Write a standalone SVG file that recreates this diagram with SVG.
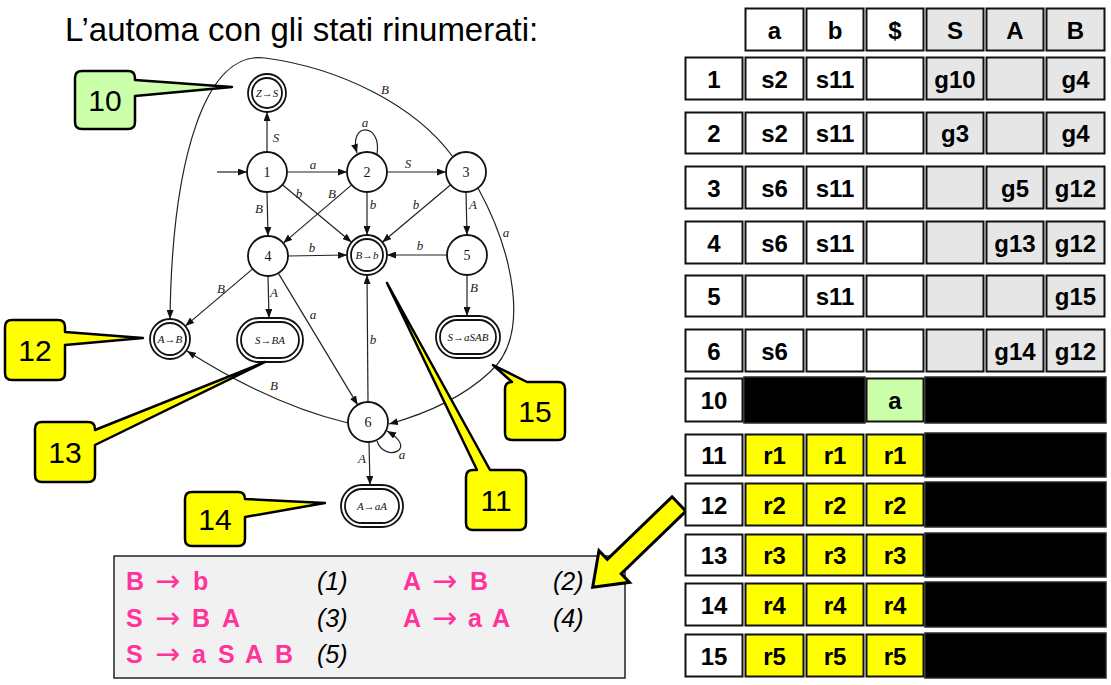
<svg xmlns="http://www.w3.org/2000/svg" width="1111" height="685" viewBox="0 0 1111 685">
<defs>
<marker id="ah" markerWidth="9" markerHeight="7" refX="9" refY="3.5" orient="auto" markerUnits="userSpaceOnUse"><path d="M0,0 L9,3.5 L0,7 Z" fill="#111"/></marker>
<style>
.e{fill:none;stroke:#222;stroke-width:1.2}
.ea{fill:none;stroke:#222;stroke-width:1.2;marker-end:url(#ah)}
.n{fill:#fff;stroke:#111;stroke-width:1.8}
.nl{font-family:"Liberation Serif",serif;font-size:14px;text-anchor:middle;fill:#111}
.sl{font-family:"Liberation Serif",serif;font-style:italic;font-size:11px;text-anchor:middle;fill:#111}
.el{font-family:"Liberation Serif",serif;font-style:italic;font-size:13px;text-anchor:middle;fill:#222}
.c{stroke:#111;stroke-width:2}
.w{fill:#fff}.g{fill:#e6e6e6}.y{fill:#ffff00}.k{fill:#000;stroke:#2a2a2a;stroke-width:1.5}.lg{fill:#ccffaa}
.t{font-family:"Liberation Sans",Arial,sans-serif;font-weight:bold;font-size:24px;text-anchor:middle;fill:#000}
.co{stroke:#000;stroke-width:2.5;stroke-linejoin:round}
.ct{font-family:"Liberation Sans",Arial,sans-serif;font-size:30px;text-anchor:middle;fill:#000}
.gp{font-family:"Liberation Sans",Arial,sans-serif;font-weight:bold;font-size:25px;fill:#ff3399}
.ga{font-family:"DejaVu Sans","Liberation Sans",sans-serif;font-size:30px;fill:#ff3399}
.gn{font-family:"Liberation Sans",Arial,sans-serif;font-style:italic;font-size:25px;fill:#000}
</style>
</defs>
<rect width="1111" height="685" fill="#fff"/>
<text x="65" y="41" font-family="Liberation Sans, Arial, sans-serif" font-size="33" fill="#000">L’automa con gli stati rinumerati:</text>

<!-- connectors -->
<g id="connectors">
<path class="ea" d="M217,172 L247,172"/>
<path class="ea" d="M267,152 L267,112"/>
<path class="ea" d="M287,172 L347,172"/>
<path class="ea" d="M377,154 C382,122 348,122 357,153"/>
<path class="ea" d="M387,172 L446,172"/>
<path class="ea" d="M267,192 L268,236"/>
<path class="ea" d="M282.4,184.8 L351.6,242.2"/>
<path class="ea" d="M351.7,184.9 L283.3,243.1"/>
<path class="ea" d="M367,192 L367,235"/>
<path class="ea" d="M450.7,184.8 L382.3,242.2"/>
<path class="ea" d="M466,192 L467,235"/>
<path class="ea" d="M288,256 L347,255"/>
<path class="ea" d="M447,255 L387,255"/>
<path class="ea" d="M252.7,268.9 L185.3,326.1"/>
<path class="ea" d="M268,276 L269,318"/>
<path class="ea" d="M278.3,273.1 L357.7,404.9"/>
<path class="ea" d="M467,275 L467,316"/>
<path class="ea" d="M368,402 L367,275"/>
<path class="ea" d="M377,441 C384,463 420,450 387,431"/>
<path class="ea" d="M369,442 L370,485"/>
<path class="ea" d="M348,423 Q272,405 187,351"/>
<path class="ea" d="M453,157 C415,105 340,68 265,58 C205,50 172,160 170,319"/>
<path class="ea" d="M478,188 C512,250 532,335 490,372 C462,398 425,414 389,424"/>
<text class="el" x="276" y="142">S</text>
<text class="el" x="313" y="169">a</text>
<text class="el" x="365" y="127">a</text>
<text class="el" x="408" y="168">S</text>
<text class="el" x="259" y="213">B</text>
<text class="el" x="299" y="198">b</text>
<text class="el" x="332" y="198">B</text>
<text class="el" x="373" y="209">b</text>
<text class="el" x="416" y="209">b</text>
<text class="el" x="473" y="209">A</text>
<text class="el" x="385" y="94">B</text>
<text class="el" x="506" y="237">a</text>
<text class="el" x="312" y="252">b</text>
<text class="el" x="420" y="250">b</text>
<text class="el" x="221" y="293">B</text>
<text class="el" x="274" y="297">A</text>
<text class="el" x="313" y="319">a</text>
<text class="el" x="474" y="292">B</text>
<text class="el" x="373" y="344">b</text>
<text class="el" x="274" y="390">B</text>
<text class="el" x="402" y="459">a</text>
<text class="el" x="362" y="463">A</text>
</g>

<!-- automaton nodes -->
<g id="node-ZS"><circle class="n" cx="267" cy="93" r="19"/><circle class="n" cx="267" cy="93" r="15"/><text class="sl" x="267" y="97">Z→S</text></g>
<g id="node-1"><circle class="n" cx="267" cy="172" r="20"/><text class="nl" x="267" y="177">1</text></g>
<g id="node-2"><circle class="n" cx="367" cy="172" r="20"/><text class="nl" x="367" y="177">2</text></g>
<g id="node-3"><circle class="n" cx="466" cy="172" r="20"/><text class="nl" x="466" y="177">3</text></g>
<g id="node-4"><circle class="n" cx="268" cy="256" r="20"/><text class="nl" x="268" y="261">4</text></g>
<g id="node-Bb"><circle class="n" cx="367" cy="255" r="20"/><circle class="n" cx="367" cy="255" r="16"/><text class="sl" x="367" y="259">B→b</text></g>
<g id="node-5"><circle class="n" cx="467" cy="255" r="20"/><text class="nl" x="467" y="260">5</text></g>
<g id="node-AB"><circle class="n" cx="170" cy="339" r="20"/><circle class="n" cx="170" cy="339" r="16"/><text class="sl" x="170" y="343">A→B</text></g>
<g id="node-SBA"><rect class="n" x="237" y="318" width="66" height="44" rx="22"/><rect class="n" x="241" y="322" width="58" height="36" rx="18"/><text class="sl" x="270" y="344">S→BA</text></g>
<g id="node-SaSAB"><rect class="n" x="436" y="316" width="64" height="42" rx="21"/><rect class="n" x="440" y="320" width="56" height="34" rx="17"/><text class="sl" x="468" y="341" font-size="10.5">S→aSAB</text></g>
<g id="node-6"><circle class="n" cx="368" cy="422" r="20"/><text class="nl" x="368" y="427">6</text></g>
<g id="node-AaA"><rect class="n" x="341" y="485" width="62" height="42" rx="21"/><rect class="n" x="345" y="489" width="54" height="34" rx="17"/><text class="sl" x="372" y="510">A→aA</text></g>

<!-- callouts -->
<g id="callout-10"><path class="co" fill="#ccffaa" d="M82,71 H128 Q135,71 135,78 V80 L232,87 L135,96 V122 Q135,129 128,129 H82 Q75,129 75,122 V78 Q75,71 82,71 Z"/><text class="ct" x="105" y="111">10</text></g>
<g id="callout-12"><path class="co" fill="#ffff00" d="M12,320 H58 Q65,320 65,327 V332 L143,338 L65,345 V373 Q65,380 58,380 H12 Q5,380 5,373 V327 Q5,320 12,320 Z"/><text class="ct" x="35" y="361">12</text></g>
<g id="callout-13"><path class="co" fill="#ffff00" d="M42,422 H88 Q95,422 95,429 V430 L265,362 L95,445 V475 Q95,482 88,482 H42 Q35,482 35,475 V429 Q35,422 42,422 Z"/><text class="ct" x="65" y="463">13</text></g>
<g id="callout-14"><path class="co" fill="#ffff00" d="M192,492 H238 Q245,492 245,499 L325,503 L245,517 V539 Q245,546 238,546 H192 Q185,546 185,539 V499 Q185,492 192,492 Z"/><text class="ct" x="215" y="530">14</text></g>
<g id="callout-15"><path class="co" fill="#ffff00" d="M512,382 L493,365 L527,382 H558 Q565,382 565,389 V433 Q565,440 558,440 H512 Q505,440 505,433 V389 Q505,382 512,382 Z"/><text class="ct" x="535" y="422">15</text></g>
<g id="callout-11"><path class="co" fill="#ffff00" d="M473,470 H477 L387,283 L490,470 H519 Q526,470 526,477 V523 Q526,530 519,530 H473 Q466,530 466,523 V477 Q466,470 473,470 Z"/><text class="ct" x="496" y="511">11</text></g>

<!-- grammar -->
<g id="grammar">
<rect x="114" y="556" width="511" height="122" fill="#f1f1f1" stroke="#222" stroke-width="1.5"/>
<text class="gp" x="126" y="590">B</text><text class="ga" x="155" y="591">→</text><text class="gp" x="193" y="590">b</text>
<text class="gn" x="317" y="590">(1)</text>
<text class="gp" x="403" y="590">A</text><text class="ga" x="432" y="591">→</text><text class="gp" x="470" y="590">B</text>
<text class="gn" x="553" y="590">(2)</text>
<text class="gp" x="126" y="627">S</text><text class="ga" x="155" y="628">→</text><text class="gp" x="192" y="627">B</text><text class="gp" x="222" y="627">A</text>
<text class="gn" x="317" y="627">(3)</text>
<text class="gp" x="403" y="627">A</text><text class="ga" x="432" y="628">→</text><text class="gp" x="468" y="627">a</text><text class="gp" x="492" y="627">A</text>
<text class="gn" x="553" y="627">(4)</text>
<text class="gp" x="126" y="663">S</text><text class="ga" x="155" y="664">→</text><text class="gp" x="192" y="663">a</text><text class="gp" x="218" y="663">S</text><text class="gp" x="245" y="663">A</text><text class="gp" x="275" y="663">B</text>
<text class="gn" x="317" y="663">(5)</text>
</g>

<!-- big arrow -->
<g id="big-arrow"><polygon points="0,-10 90,-10 90,-22 120,0 90,22 90,10 0,10" transform="translate(679,504) rotate(136)" fill="#ffff00" stroke="#000" stroke-width="3" stroke-linejoin="miter"/></g>

<!-- table -->
<g id="table">
<g id="row-h">
<rect class="c w" x="745.5" y="8.5" width="58" height="42"/><rect class="c w" x="806.5" y="8.5" width="57" height="42"/><rect class="c w" x="866.5" y="8.5" width="57" height="42"/>
<rect class="c g" x="926.5" y="8.5" width="57" height="42"/><rect class="c g" x="986.5" y="8.5" width="57" height="42"/><rect class="c g" x="1046.5" y="8.5" width="58" height="42"/>
<text class="t" x="774.5" y="38.5">a</text><text class="t" x="835" y="38.5">b</text><text class="t" x="895" y="38.5">$</text><text class="t" x="955" y="38.5">S</text><text class="t" x="1015" y="38.5">A</text><text class="t" x="1075.5" y="38.5">B</text>
</g>
<g id="row-1">
<rect class="c w" x="685.5" y="57.5" width="57" height="42"/><rect class="c w" x="745.5" y="57.5" width="58" height="42"/><rect class="c w" x="806.5" y="57.5" width="57" height="42"/><rect class="c w" x="866.5" y="57.5" width="57" height="42"/>
<rect class="c g" x="926.5" y="57.5" width="57" height="42"/><rect class="c g" x="986.5" y="57.5" width="57" height="42"/><rect class="c g" x="1046.5" y="57.5" width="58" height="42"/>
<text class="t" x="714" y="87.5">1</text><text class="t" x="774.5" y="87.5">s2</text><text class="t" x="835" y="87.5">s11</text><text class="t" x="955" y="87.5">g10</text><text class="t" x="1075.5" y="87.5">g4</text>
</g>
<g id="row-2">
<rect class="c w" x="685.5" y="112.5" width="57" height="41"/><rect class="c w" x="745.5" y="112.5" width="58" height="41"/><rect class="c w" x="806.5" y="112.5" width="57" height="41"/><rect class="c w" x="866.5" y="112.5" width="57" height="41"/>
<rect class="c g" x="926.5" y="112.5" width="57" height="41"/><rect class="c g" x="986.5" y="112.5" width="57" height="41"/><rect class="c g" x="1046.5" y="112.5" width="58" height="41"/>
<text class="t" x="714" y="142">2</text><text class="t" x="774.5" y="142">s2</text><text class="t" x="835" y="142">s11</text><text class="t" x="955" y="142">g3</text><text class="t" x="1075.5" y="142">g4</text>
</g>
<g id="row-3">
<rect class="c w" x="685.5" y="166.5" width="57" height="42"/><rect class="c w" x="745.5" y="166.5" width="58" height="42"/><rect class="c w" x="806.5" y="166.5" width="57" height="42"/><rect class="c w" x="866.5" y="166.5" width="57" height="42"/>
<rect class="c g" x="926.5" y="166.5" width="57" height="42"/><rect class="c g" x="986.5" y="166.5" width="57" height="42"/><rect class="c g" x="1046.5" y="166.5" width="58" height="42"/>
<text class="t" x="714" y="196.5">3</text><text class="t" x="774.5" y="196.5">s6</text><text class="t" x="835" y="196.5">s11</text><text class="t" x="1015" y="196.5">g5</text><text class="t" x="1075.5" y="196.5">g12</text>
</g>
<g id="row-4">
<rect class="c w" x="685.5" y="221.5" width="57" height="42"/><rect class="c w" x="745.5" y="221.5" width="58" height="42"/><rect class="c w" x="806.5" y="221.5" width="57" height="42"/><rect class="c w" x="866.5" y="221.5" width="57" height="42"/>
<rect class="c g" x="926.5" y="221.5" width="57" height="42"/><rect class="c g" x="986.5" y="221.5" width="57" height="42"/><rect class="c g" x="1046.5" y="221.5" width="58" height="42"/>
<text class="t" x="714" y="251.5">4</text><text class="t" x="774.5" y="251.5">s6</text><text class="t" x="835" y="251.5">s11</text><text class="t" x="1015" y="251.5">g13</text><text class="t" x="1075.5" y="251.5">g12</text>
</g>
<g id="row-5">
<rect class="c w" x="685.5" y="275.5" width="57" height="41"/><rect class="c w" x="745.5" y="275.5" width="58" height="41"/><rect class="c w" x="806.5" y="275.5" width="57" height="41"/><rect class="c w" x="866.5" y="275.5" width="57" height="41"/>
<rect class="c g" x="926.5" y="275.5" width="57" height="41"/><rect class="c g" x="986.5" y="275.5" width="57" height="41"/><rect class="c g" x="1046.5" y="275.5" width="58" height="41"/>
<text class="t" x="714" y="305">5</text><text class="t" x="835" y="305">s11</text><text class="t" x="1075.5" y="305">g15</text>
</g>
<g id="row-6">
<rect class="c w" x="685.5" y="329.5" width="57" height="42"/><rect class="c w" x="745.5" y="329.5" width="58" height="42"/><rect class="c w" x="806.5" y="329.5" width="57" height="42"/><rect class="c w" x="866.5" y="329.5" width="57" height="42"/>
<rect class="c g" x="926.5" y="329.5" width="57" height="42"/><rect class="c g" x="986.5" y="329.5" width="57" height="42"/><rect class="c g" x="1046.5" y="329.5" width="58" height="42"/>
<text class="t" x="714" y="359.5">6</text><text class="t" x="774.5" y="359.5">s6</text><text class="t" x="1015" y="359.5">g14</text><text class="t" x="1075.5" y="359.5">g12</text>
</g>
<g id="row-10">
<rect class="c w" x="685.5" y="378.5" width="57" height="43"/>
<rect class="k" x="744" y="377" width="121" height="46"/>
<rect class="c lg" x="866.5" y="378.5" width="57" height="43"/>
<rect class="k" x="925" y="377" width="181" height="46"/>
<text class="t" x="714" y="409">10</text><text class="t" x="895" y="409">a</text>
</g>
<g id="row-11">
<rect class="c w" x="685.5" y="434.5" width="57" height="41"/><rect class="c y" x="745.5" y="434.5" width="58" height="41"/><rect class="c y" x="806.5" y="434.5" width="57" height="41"/><rect class="c y" x="866.5" y="434.5" width="57" height="41"/>
<rect class="k" x="925" y="433" width="181" height="44"/>
<text class="t" x="714" y="464">11</text><text class="t" x="774.5" y="464">r1</text><text class="t" x="835" y="464">r1</text><text class="t" x="895" y="464">r1</text>
</g>
<g id="row-12">
<rect class="c w" x="685.5" y="483.5" width="57" height="42"/><rect class="c y" x="745.5" y="483.5" width="58" height="42"/><rect class="c y" x="806.5" y="483.5" width="57" height="42"/><rect class="c y" x="866.5" y="483.5" width="57" height="42"/>
<rect class="k" x="925" y="482" width="181" height="45"/>
<text class="t" x="714" y="513.5">12</text><text class="t" x="774.5" y="513.5">r2</text><text class="t" x="835" y="513.5">r2</text><text class="t" x="895" y="513.5">r2</text>
</g>
<g id="row-13">
<rect class="c w" x="685.5" y="534.5" width="57" height="41"/><rect class="c y" x="745.5" y="534.5" width="58" height="41"/><rect class="c y" x="806.5" y="534.5" width="57" height="41"/><rect class="c y" x="866.5" y="534.5" width="57" height="41"/>
<rect class="k" x="925" y="533" width="181" height="44"/>
<text class="t" x="714" y="564">13</text><text class="t" x="774.5" y="564">r3</text><text class="t" x="835" y="564">r3</text><text class="t" x="895" y="564">r3</text>
</g>
<g id="row-14">
<rect class="c w" x="685.5" y="583.5" width="57" height="42"/><rect class="c y" x="745.5" y="583.5" width="58" height="42"/><rect class="c y" x="806.5" y="583.5" width="57" height="42"/><rect class="c y" x="866.5" y="583.5" width="57" height="42"/>
<rect class="k" x="925" y="582" width="181" height="45"/>
<text class="t" x="714" y="613.5">14</text><text class="t" x="774.5" y="613.5">r4</text><text class="t" x="835" y="613.5">r4</text><text class="t" x="895" y="613.5">r4</text>
</g>
<g id="row-15">
<rect class="c w" x="685.5" y="634.5" width="57" height="42"/><rect class="c y" x="745.5" y="634.5" width="58" height="42"/><rect class="c y" x="806.5" y="634.5" width="57" height="42"/><rect class="c y" x="866.5" y="634.5" width="57" height="42"/>
<rect class="k" x="925" y="633" width="181" height="45"/>
<text class="t" x="714" y="664.5">15</text><text class="t" x="774.5" y="664.5">r5</text><text class="t" x="835" y="664.5">r5</text><text class="t" x="895" y="664.5">r5</text>
</g>
</g>
</svg>
